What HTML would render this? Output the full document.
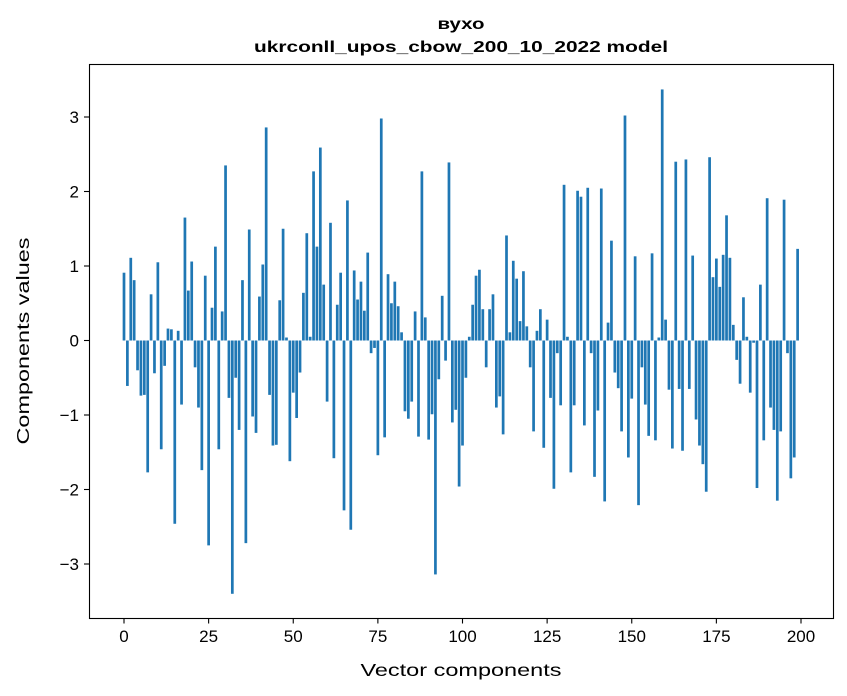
<!DOCTYPE html>
<html><head><meta charset="utf-8"><style>
html,body{margin:0;padding:0;background:#fff;}
svg{display:block;font-family:"Liberation Sans",sans-serif;}
</style></head><body>
<svg id="s" width="847" height="696" xmlns="http://www.w3.org/2000/svg">
<rect width="847" height="696" fill="#fff"/>
<g id="bars" fill="#1f77b4"></g>
<rect x="89.5" y="64.5" width="744" height="554" fill="none" stroke="#000" stroke-width="1.1"/>
<g id="ticks" font-size="17" fill="#000"></g>
<text x="461" y="29" text-anchor="middle" font-weight="bold" font-size="16" textLength="47" lengthAdjust="spacingAndGlyphs">вухо</text>
<text x="461" y="52" text-anchor="middle" font-weight="bold" font-size="16" textLength="414" lengthAdjust="spacingAndGlyphs">ukrconll_upos_cbow_200_10_2022 model</text>
<text x="461" y="676" text-anchor="middle" font-size="17.5" textLength="201" lengthAdjust="spacingAndGlyphs">Vector components</text>
<text transform="translate(29,341) rotate(-90)" text-anchor="middle" font-size="17.5" textLength="207" lengthAdjust="spacingAndGlyphs">Components values</text>
</svg>
<script>
var v=[0.91,-0.61,1.11,0.81,-0.40,-0.74,-0.73,-1.77,0.62,-0.44,1.05,-1.46,-0.34,0.16,0.15,-2.46,0.13,-0.86,1.65,0.67,1.06,-0.36,-0.9,-1.74,0.87,-2.75,0.44,1.26,-1.46,0.39,2.35,-0.77,-3.4,-0.5,-1.2,0.81,-2.72,1.49,-1.02,-1.24,0.59,1.02,2.86,-0.73,-1.41,-1.4,0.54,1.5,0.04,-1.62,
-0.70,-1.04,-0.43,0.64,1.44,0.05,2.27,1.26,2.59,0.75,-0.82,1.58,-1.58,0.48,0.91,-2.28,1.88,-2.54,0.94,0.55,0.79,0.40,1.18,-0.17,-0.1,-1.54,2.98,-1.3,0.89,0.5,0.79,0.46,0.11,-0.95,-1.05,-0.82,0.39,-1.29,2.27,0.31,-1.33,-0.99,-3.14,-0.52,0.6,-0.27,2.39,-1.10,-0.93,-1.96,
-1.41,-0.5,0.05,0.48,0.87,0.95,0.42,-0.36,0.42,0.62,-0.9,-0.75,-1.26,1.41,0.11,1.07,0.83,0.26,0.93,0.19,-0.36,-1.22,0.13,0.42,-1.44,0.28,-0.77,-1.99,-0.17,-0.87,2.09,0.05,-1.77,-0.87,2.01,1.93,-1.14,2.05,-0.17,-1.83,-0.94,2.04,-2.16,0.24,1.34,-0.43,-0.64,-1.22,3.02,-1.57,
-0.78,1.13,-2.21,-0.36,-0.86,-1.28,1.17,-1.34,0.04,3.37,0.28,-0.66,-1.45,2.4,-0.65,-1.48,2.43,-0.65,1.14,-1.06,-1.41,-1.66,-2.03,2.46,0.85,1.1,0.72,1.15,1.68,1.11,0.21,-0.26,-0.58,0.58,0.05,-0.7,-0.03,-1.98,0.75,-1.34,1.91,-0.9,-1.2,-2.15,-1.22,1.89,-0.17,-1.85,-1.57,1.23];
var g=document.getElementById("bars"),x0=124,dx=3.385,y0=340.5,k=74.5,h="";
for(var i=0;i<v.length;i++){var x=x0+i*dx-1.354,y=v[i]>=0?y0-v[i]*k:y0,hh=Math.abs(v[i])*k;
h+='<rect x="'+x.toFixed(2)+'" y="'+y.toFixed(2)+'" width="2.71" height="'+hh.toFixed(2)+'"/>';}
g.innerHTML=h;
var t="",tg=document.getElementById("ticks");
for(var j=0;j<=200;j+=25){var xx=x0+j*dx;t+='<line x1="'+xx+'" y1="618.5" x2="'+xx+'" y2="623.5" stroke="#000" stroke-width="1.1"/><text x="'+xx+'" y="642" text-anchor="middle">'+j+'</text>';}
for(var m=-3;m<=3;m++){var yy=y0-m*k;t+='<line x1="84" y1="'+yy+'" x2="89.5" y2="'+yy+'" stroke="#000" stroke-width="1.1"/><text x="79" y="'+(yy+6)+'" text-anchor="end">'+(m<0?'\u2212'+(-m):m)+'</text>';}
tg.innerHTML=t;
</script>
</body></html>
